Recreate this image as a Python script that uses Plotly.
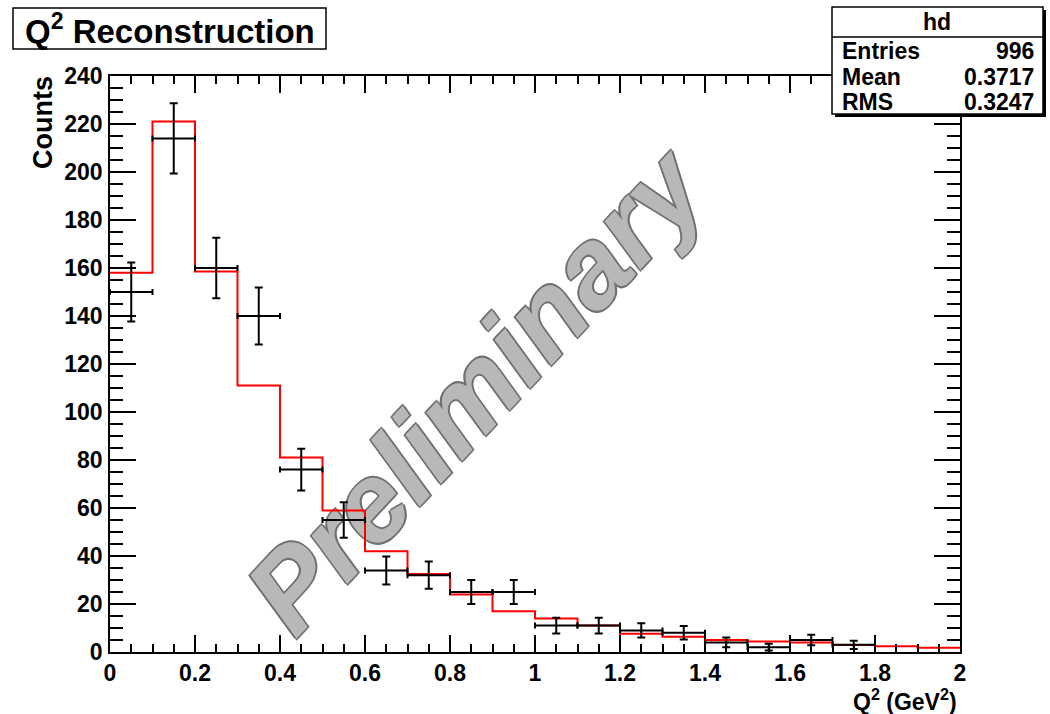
import numpy as np
import plotly.graph_objects as go

# Binning: 20 bins of width 0.1 GeV^2 from 0 to 2
bin_edges = [round(0.1 * i, 1) for i in range(21)]
bin_centers = [round(0.05 + 0.1 * i, 2) for i in range(20)]

# Reconstructed Q^2 (data points, Poisson errors)
data_counts = [150, 214, 160, 140, 76, 55, 34, 32, 25, 25,
               11, 11, 9, 8, 4, 2, 5, 3, None, None]

# Simulated Q^2 distribution (red histogram)
sim_counts = [158, 221, 158.5, 111, 81, 59, 42, 32.5, 24, 17,
              14, 11, 7.6, 6.4, 5, 4.4, 4, 2.9, 2.4, 1.8]

# Statistics box contents
stats_name = "hd"
stats_labels = ["Entries", "Mean", "RMS"]
stats_values = ["996", "0.3717", "0.3247"]

y_tick_vals = list(range(0, 241, 20))
x_tick_vals = [round(0.2 * i, 1) for i in range(11)]
x_tick_text = ["0", "0.2", "0.4", "0.6", "0.8", "1", "1.2", "1.4", "1.6", "1.8", "2"]

FONT = "Liberation Sans, Arial, Helvetica, sans-serif"

fig = go.Figure()

# Step outline of the simulated histogram
fig.add_trace(go.Scatter(
    x=bin_edges,
    y=sim_counts + [sim_counts[-1]],
    mode="lines",
    line=dict(color="#ff0000", width=2, shape="hv"),
    hoverinfo="skip",
    showlegend=False,
))

# Data points with x (bin width) and y (sqrt N) error bars
err_y = [None if c is None else float(np.sqrt(c)) for c in data_counts]
fig.add_trace(go.Scatter(
    x=bin_centers,
    y=data_counts,
    mode="markers",
    marker=dict(size=1, color="black"),
    error_x=dict(type="constant", value=0.05, color="black", thickness=2, width=3),
    error_y=dict(type="data", array=err_y, color="black", thickness=2, width=4),
    showlegend=False,
))

axis_common = dict(
    showline=True, linecolor="black", linewidth=1.5,
    mirror="ticks", ticks="inside", tickcolor="black", tickwidth=1.5,
    showgrid=False, zeroline=False,
    tickfont=dict(family=FONT, size=23, color="black", weight="bold"),
)

fig.update_xaxes(
    range=[0, 2], tickvals=x_tick_vals, ticktext=x_tick_text, ticklen=17,
    minor=dict(dtick=0.05, ticklen=8, ticks="inside", tickcolor="black", tickwidth=1.5),
    ticklabelstandoff=0,
    **axis_common,
)
fig.update_yaxes(
    range=[0, 240], tickvals=y_tick_vals, ticklen=26,
    minor=dict(dtick=5, ticklen=13, ticks="inside", tickcolor="black", tickwidth=1.5),
    ticklabelstandoff=1,
    **axis_common,
)

shapes = []
annotations = []

# Watermark drawn beneath the histogram
shapes.append(dict(
    type="rect", xref="x", yref="y", layer="below",
    x0=0.83, x1=0.85, y0=111, y1=113,
    line=dict(width=0), fillcolor="rgba(0,0,0,0)",
    label=dict(
        text="Preliminary", textangle=-47, textposition="middle center",
        font=dict(family=FONT, size=112, color="#b8b8b8", weight="bold", style="italic",
                  shadow="1.5px 1.5px 0 #707070, -1.5px -1.5px 0 #707070, 1.5px -1.5px 0 #707070, -1.5px 1.5px 0 #707070"),
    ),
))

# Title box
shapes.append(dict(type="rect", xref="paper", yref="paper",
                   x0=(13 - 110) / 850, x1=(326 - 110) / 850,
                   y0=(652 - 49) / 576, y1=(652 - 8) / 576,
                   line=dict(color="black", width=1.5), fillcolor="white", layer="above"))
annotations.append(dict(
    text="Q<sup>2</sup> Reconstruction", xref="paper", yref="paper",
    x=(170 - 110) / 850, y=(652 - 29) / 576, xanchor="center", yanchor="middle",
    showarrow=False, font=dict(family=FONT, size=33, color="black", weight="bold"),
))

# Statistics box with drop shadow
shapes.append(dict(type="rect", xref="paper", yref="paper",
                   x0=(835 - 110) / 850, x1=(1046 - 110) / 850,
                   y0=(652 - 117) / 576, y1=(652 - 10) / 576,
                   line=dict(width=0), fillcolor="black", layer="above"))
shapes.append(dict(type="rect", xref="paper", yref="paper",
                   x0=(832 - 110) / 850, x1=(1043 - 110) / 850,
                   y0=(652 - 114) / 576, y1=(652 - 7) / 576,
                   line=dict(color="black", width=1.5), fillcolor="white", layer="above"))
shapes.append(dict(type="line", xref="paper", yref="paper",
                   x0=(832 - 110) / 850, x1=(1043 - 110) / 850,
                   y0=(652 - 37) / 576, y1=(652 - 37) / 576,
                   line=dict(color="black", width=1.5), layer="above"))

stats_font = dict(family=FONT, size=23, color="black", weight="bold")
annotations.append(dict(
    text=stats_name, xref="paper", yref="paper",
    x=(937 - 110) / 850, y=(652 - 22) / 576, xanchor="center", yanchor="middle",
    showarrow=False, font=stats_font,
))
row_y = [51, 77, 102]
for lab, val, yy in zip(stats_labels, stats_values, row_y):
    annotations.append(dict(
        text=lab, xref="paper", yref="paper",
        x=(840 - 110) / 850, y=(652 - yy) / 576, xanchor="left", yanchor="middle",
        showarrow=False, font=stats_font,
    ))
    annotations.append(dict(
        text=val, xref="paper", yref="paper",
        x=(1036 - 110) / 850, y=(652 - yy) / 576, xanchor="right", yanchor="middle",
        showarrow=False, font=stats_font,
    ))

# Axis titles, aligned to the far end of each axis
annotations.append(dict(
    text="Counts", xref="paper", yref="paper",
    x=(43 - 110) / 850, y=(652 - 123) / 576, xanchor="center", yanchor="middle",
    textangle=-90, showarrow=False,
    font=dict(family=FONT, size=27, color="black", weight="bold"),
))
annotations.append(dict(
    text="Q<sup>2</sup> (GeV<sup>2</sup>)", xref="paper", yref="paper",
    x=(959 - 110) / 850, y=(652 - 700) / 576, xanchor="right", yanchor="middle",
    showarrow=False,
    font=dict(family=FONT, size=23, color="black", weight="bold"),
))

fig.update_layout(
    width=1050, height=714,
    margin=dict(l=110, r=90, t=76, b=62),
    paper_bgcolor="white", plot_bgcolor="white",
    shapes=shapes, annotations=annotations,
    showlegend=False,
)

fig.write_html("out.html")
